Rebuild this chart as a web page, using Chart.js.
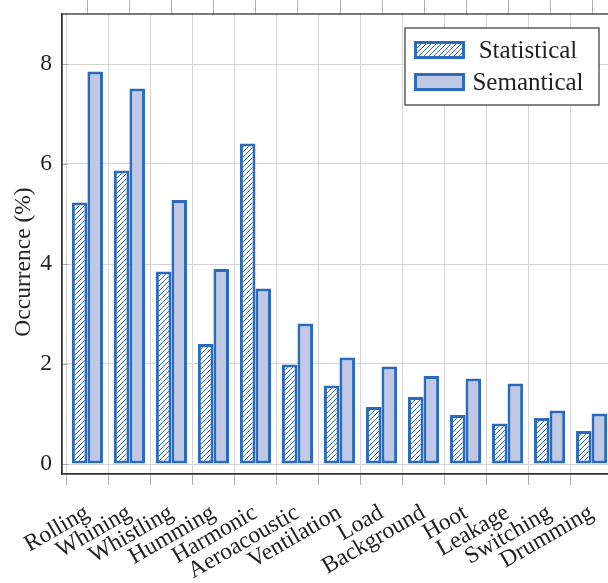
<!DOCTYPE html>
<html>
<head>
<meta charset="utf-8">
<script src="https://cdn.jsdelivr.net/npm/chart.js@4/dist/chart.umd.min.js"></script>
<style>
  html, body { margin: 0; padding: 0; overflow: hidden; background: #fff; }
  #wrap { width: 630px; height: 583px; }
</style>
</head>
<body>
<div id="wrap"><canvas id="mycanvas" width="630" height="583"></canvas></div>
<script>
var categories = ["Rolling", "Whining", "Whistling", "Humming", "Harmonic", "Aeroacoustic",
	"Ventilation", "Load", "Background", "Hoot", "Leakage", "Switching", "Drumming"];
var statistical = [5.23, 5.87, 3.85, 2.40, 6.41, 1.99, 1.57, 1.14, 1.34, 0.98, 0.81, 0.92, 0.66];
var semantical = [7.85, 7.51, 5.28, 3.90, 3.51, 2.81, 2.13, 1.95, 1.76, 1.71, 1.61, 1.07, 1.01];
var yTicks = [0, 2, 4, 6, 8];
var seriesNames = ["Statistical", "Semantical"];

var blue = "#2b6abd";
var lightFill = "#c0c8e4";
var serif = "'Liberation Serif', 'DejaVu Serif', serif";

// diagonal hatch like pgfplots north east lines
function makeHatch() {
	var c = document.createElement("canvas");
	c.width = 5; c.height = 5;
	var g = c.getContext("2d");
	g.fillStyle = "#fff";
	g.fillRect(0, 0, 5, 5);
	g.strokeStyle = blue;
	g.lineWidth = 1;
	g.beginPath();
	g.moveTo(0, 5); g.lineTo(5, 0);
	g.moveTo(-1, 1); g.lineTo(1, -1);
	g.moveTo(4, 6); g.lineTo(6, 4);
	g.stroke();
	return g.createPattern(c, "repeat");
}
var hatch = makeHatch();

function toPoints(arr) {
	var out = [];
	for (var i in arr) out.push({x: Number(i), y: arr[i]});
	return out;
}

var framePlugin = {
	id: "frame",
	afterDatasetsDraw: function(chart) {
		var ctx = chart.ctx;
		var a = chart.chartArea;
		var ys = chart.scales.y;
		var xs = chart.scales.x;
		ctx.save();
		// small inside ticks on y
		ctx.strokeStyle = "#a8a8a8";
		ctx.lineWidth = 1;
		for (var i in yTicks) {
			var py = Math.round(ys.getPixelForValue(yTicks[i])) + 0.5;
			ctx.beginPath();
			ctx.moveTo(a.left, py); ctx.lineTo(a.left + 6, py);
			ctx.moveTo(a.right, py); ctx.lineTo(a.right - 6, py);
			ctx.stroke();
		}
		// ticks above the top edge
		ctx.strokeStyle = "#b0b0b0";
		for (var j = 0; j < categories.length; j++) {
			var px = Math.round(xs.getPixelForValue(j)) + 0.5;
			ctx.beginPath();
			ctx.moveTo(px, a.top); ctx.lineTo(px, 0);
			ctx.stroke();
		}
		// box
		ctx.strokeStyle = "#333";
		ctx.lineWidth = 1.3;
		ctx.strokeRect(a.left, a.top, a.right - a.left, a.bottom - a.top);

		// legend
		var lx = a.right - 212, ly = a.top + 14, lw = 194, lh = 77;
		ctx.fillStyle = "#fff";
		ctx.fillRect(lx, ly, lw, lh);
		ctx.strokeStyle = "#333";
		ctx.lineWidth = 1.2;
		ctx.strokeRect(lx, ly, lw, lh);
		var fills = [hatch, lightFill];
		for (var k = 0; k < seriesNames.length; k++) {
			var sy = ly + 13 + k * 32;
			ctx.fillStyle = fills[k];
			ctx.fillRect(lx + 9, sy, 51, 18);
			ctx.strokeStyle = blue;
			ctx.lineWidth = 3;
			ctx.strokeRect(lx + 10.5, sy + 1.5, 48, 15);
			ctx.fillStyle = "#222";
			ctx.font = "25px " + serif;
			ctx.textAlign = "center";
			ctx.textBaseline = "middle";
			ctx.fillText(seriesNames[k], lx + 123, sy + 10);
		}
		// y axis title
		ctx.translate(24, 262);
		ctx.rotate(-Math.PI / 2);
		ctx.fillStyle = "#222";
		ctx.font = "23.5px " + serif;
		ctx.textAlign = "center";
		ctx.textBaseline = "middle";
		ctx.fillText("Occurrence (%)", 0, 0);
		ctx.restore();
	}
};

var chartdata = {
	datasets: [
	{
		label: seriesNames[0],
		backgroundColor: hatch,
		borderColor: blue,
		borderWidth: 3,
		borderSkipped: false,
		data: toPoints(statistical)
	},
	{
		label: seriesNames[1],
		backgroundColor: lightFill,
		borderColor: blue,
		borderWidth: 3,
		borderSkipped: false,
		data: toPoints(semantical)
	}
	]
};

var ctx = document.getElementById("mycanvas");
var BarGraph = new Chart(ctx, {
	type: "bar",
	data: chartdata,
	plugins: [framePlugin],
	options: {
		responsive: false,
		animation: false,
		layout: { padding: { top: 14, right: 13, left: 0, bottom: 0 } },
		datasets: { bar: { categoryPercentage: 0.74, barPercentage: 1 } },
		plugins: {
			legend: { display: false },
			tooltip: { enabled: false }
		},
		scales: {
			x: {
				type: "linear",
				min: -0.605,
				max: 12.605,
				offset: false,
				afterBuildTicks: function(scale) {
					scale.ticks = categories.map(function(c, i) { return {value: i}; });
				},
				afterFit: function(scale) { scale.height = 109; },
				grid: { color: "#d4d4d4", drawTicks: true, tickLength: 11, tickColor: "#b0b0b0" },
				border: { display: true, color: "#333", width: 1.3 },
				ticks: {
					autoSkip: false,
					minRotation: 30,
					maxRotation: 30,
					padding: 14,
					color: "#222",
					font: { family: serif, size: 23.5 },
					callback: function(v) { return categories[v]; }
				}
			},
			y: {
				min: -0.2,
				max: 9,
				afterBuildTicks: function(scale) {
					scale.ticks = yTicks.map(function(v) { return {value: v}; });
				},
				afterFit: function(scale) {
					scale.width = 62;
					scale.paddingTop = 0;
					scale.paddingBottom = 0;
				},
				grid: { color: "#d4d4d4", drawTicks: false },
				border: { display: true, color: "#333", width: 1.3 },
				ticks: {
					padding: 10,
					color: "#222",
					font: { family: serif, size: 23.5 }
				}
			}
		}
	}
});
</script>
</body>
</html>
